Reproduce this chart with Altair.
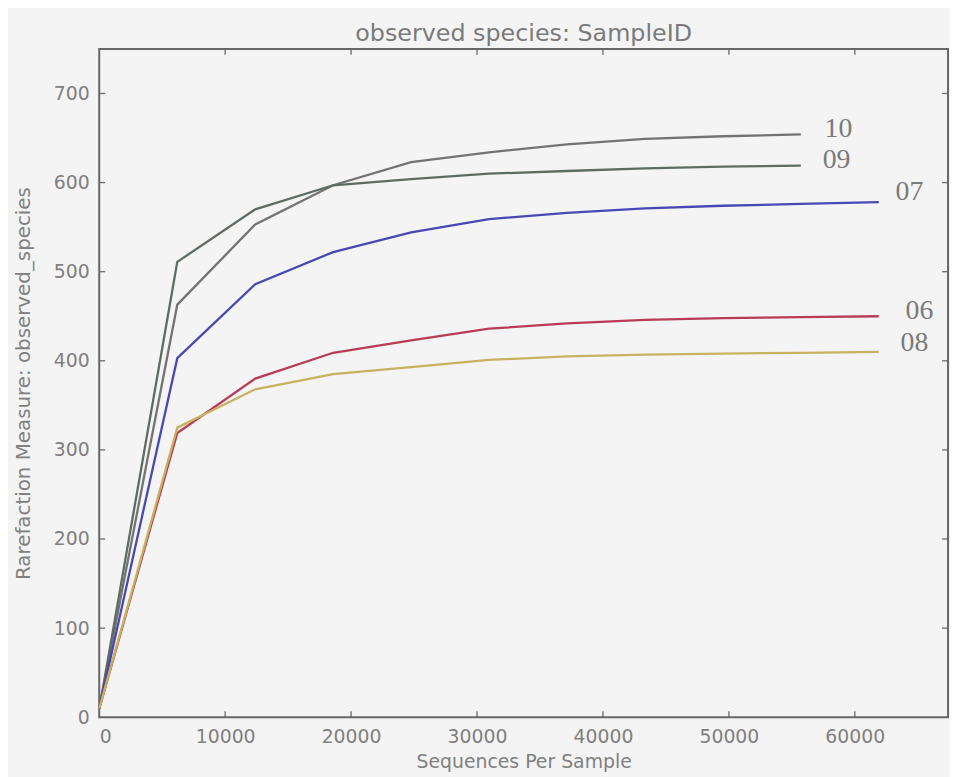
import altair as alt
import pandas as pd

depths = [10, 6199, 12388, 18577, 24766, 30955, 37144, 43333, 49522, 55711, 61900]
samples = ["10", "09", "07", "06", "08"]
values = {
    "10": [10, 463, 553, 597, 623, 634, 643, 649, 652, 654],
    "09": [10, 511, 570, 597, 604, 610, 613, 616, 618, 619],
    "07": [10, 403, 486, 522, 544, 559, 566, 571, 574, 576, 578],
    "06": [10, 319, 380, 409, 423, 436, 442, 446, 448, 449, 450],
    "08": [10, 325, 368, 385, 393, 401, 405, 407, 408, 409, 410],
}
colors = ["#737373", "#5e6b61", "#4848b4", "#b83c55", "#c8b260"]
x_ticks = [0, 10000, 20000, 30000, 40000, 50000, 60000]
y_ticks = [0, 100, 200, 300, 400, 500, 600, 700]

rows = []
for s in samples:
    for d, v in zip(depths, values[s]):
        rows.append({"sample": s, "depth": d, "species": v})
df = pd.DataFrame(rows)
last = df.groupby("sample", as_index=False).last()

W, H = 856, 674
GRAY = "#808080"

xs = alt.Scale(domain=[0, 67400], nice=False, zero=False)
ys = alt.Scale(domain=[0, 750], nice=False, zero=False)
cs = alt.Scale(domain=samples, range=colors)

lines = alt.Chart(df).mark_line(strokeWidth=2.3).encode(
    x=alt.X("depth:Q", scale=xs,
            axis=alt.Axis(values=x_ticks, format="d", title="Sequences Per Sample",
                          grid=False, ticks=False, domain=False,
                          labelFontSize=19, labelColor=GRAY, labelPadding=10,
                          titleFontSize=19, titleColor=GRAY, titleFontWeight="normal",
                          titlePadding=7, labelFont="DejaVu Sans", titleFont="DejaVu Sans")),
    y=alt.Y("species:Q", scale=ys,
            axis=alt.Axis(values=y_ticks, title="Rarefaction Measure: observed_species",
                          grid=False, ticks=False, domain=False,
                          labelFontSize=19, labelColor=GRAY, labelPadding=10,
                          titleFontSize=20, titleColor=GRAY, titleFontWeight="normal",
                          titlePadding=20, labelFont="DejaVu Sans", titleFont="DejaVu Sans")),
    color=alt.Color("sample:N", scale=cs, legend=None),
    detail="sample:N",
)

# per-label text offsets (style only)
offsets = {"10": (24, -5), "09": (22, -6), "07": (17, -10), "06": (27, -5), "08": (22, -9)}
label_layers = []
for s in samples:
    dx, dy = offsets[s]
    label_layers.append(
        alt.Chart(last[last["sample"] == s]).mark_text(
            align="left", baseline="middle", dx=dx, dy=dy,
            font="Liberation Serif", fontSize=28, color="#7a7a7a"
        ).encode(
            x=alt.X("depth:Q", scale=xs),
            y=alt.Y("species:Q", scale=ys),
            text="sample:N",
        )
    )

xt = pd.DataFrame({"t": x_ticks[1:]})
yt = pd.DataFrame({"t": y_ticks[1:]})
tick_style = dict(color="#6a6a6a", strokeWidth=1.3)
bottom_ticks = alt.Chart(xt).mark_rule(**tick_style).encode(
    x=alt.X("t:Q", scale=xs), y=alt.value(H), y2=alt.value(H - 6))
top_ticks = alt.Chart(xt).mark_rule(**tick_style).encode(
    x=alt.X("t:Q", scale=xs), y=alt.value(0), y2=alt.value(6))
left_ticks = alt.Chart(yt).mark_rule(**tick_style).encode(
    y=alt.Y("t:Q", scale=ys), x=alt.value(0), x2=alt.value(6))
right_ticks = alt.Chart(yt).mark_rule(**tick_style).encode(
    y=alt.Y("t:Q", scale=ys), x=alt.value(W), x2=alt.value(W - 6))

chart = alt.layer(lines, *label_layers, bottom_ticks, top_ticks, left_ticks, right_ticks).properties(
    width=W, height=H,
    title=alt.Title("observed species: SampleID", fontSize=24, color="#7a7a7a",
                    font="DejaVu Sans", fontWeight="normal", anchor="middle", offset=2),
    autosize=alt.AutoSizeParams(type="none"),
    padding={"left": 92, "top": 38, "right": 2, "bottom": 57},
    background="#f4f4f4",
).configure_view(stroke="#666666", strokeWidth=2)

chart.save("out.html", embed_options={"renderer": "svg", "actions": False})
